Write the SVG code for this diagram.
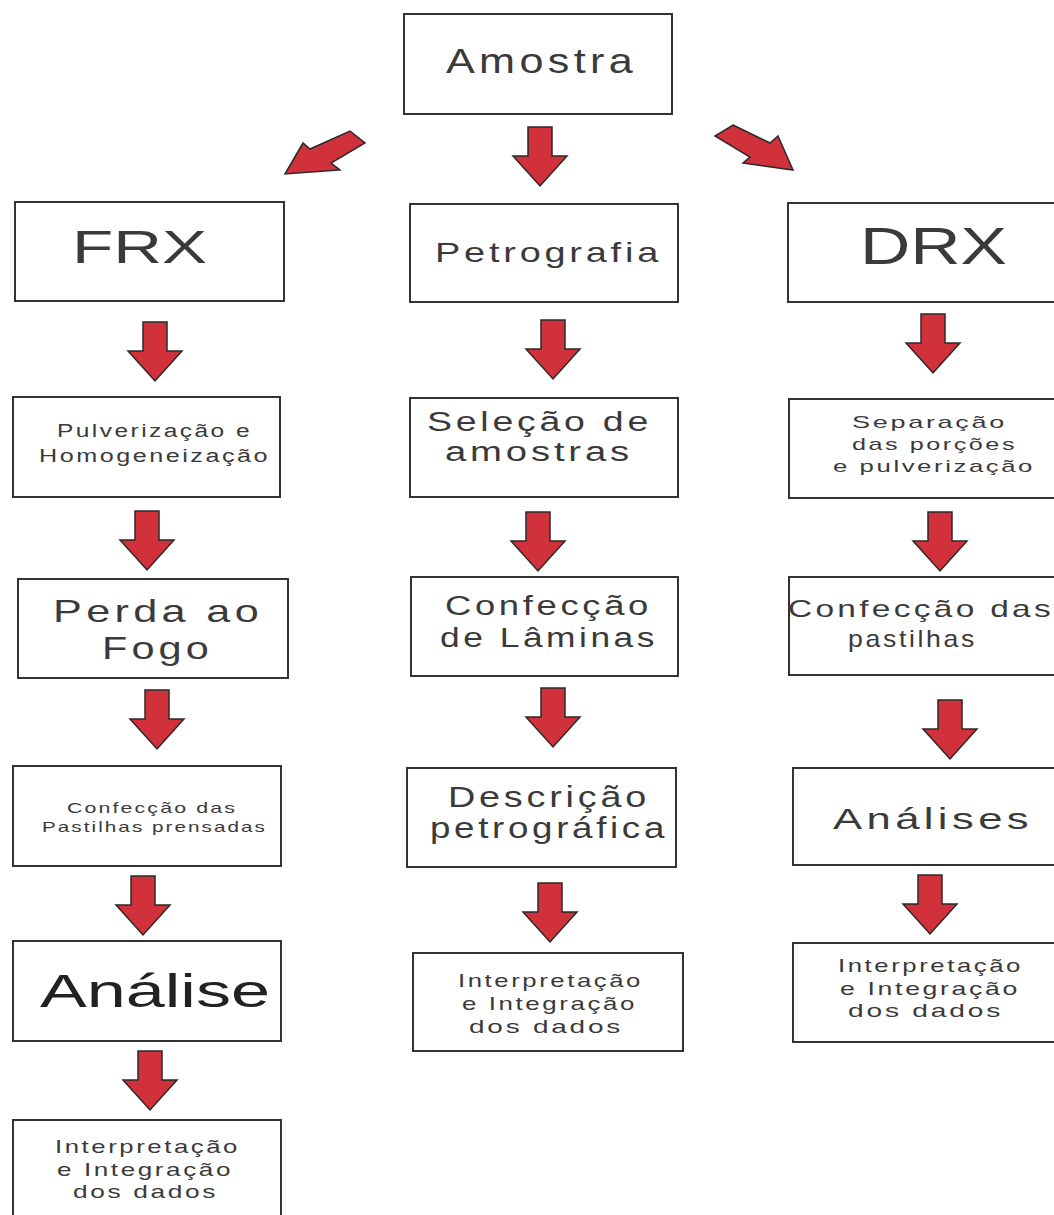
<svg xmlns="http://www.w3.org/2000/svg" xmlns:xlink="http://www.w3.org/1999/xlink" width="1054" height="1215" viewBox="0 0 1054 1215">
<style>
.box{fill:#fff;stroke:#333;stroke-width:2}
.t{font-family:"Liberation Sans",Arial,sans-serif;fill:#3a3a3a}
.ls{letter-spacing:0.1em}
.arr{fill:#d0313a;stroke:#2a2a2a;stroke-width:1.5;stroke-linejoin:miter}
</style>
<defs>
<path id="down" d="M-12,0 H12 V29 H27 L0,59 L-27,29 H-12 Z"/>
</defs>
<rect width="1054" height="1215" fill="#fff"/>

<g id="connectors" class="arr">
<polygon points="350,131 365,143 331,163 340,170 285,174 303,143 310,149"/>
<polygon points="733,125 770,143 778,136 793,170 743,163 750,157 715,136"/>
<use xlink:href="#down" x="540" y="127"/>
<use xlink:href="#down" x="155" y="322"/>
<use xlink:href="#down" x="147" y="511"/>
<use xlink:href="#down" x="157" y="690"/>
<use xlink:href="#down" x="143" y="876"/>
<use xlink:href="#down" x="150" y="1051"/>
<use xlink:href="#down" x="553" y="320"/>
<use xlink:href="#down" x="538" y="512"/>
<use xlink:href="#down" x="553" y="688"/>
<use xlink:href="#down" x="550" y="883"/>
<use xlink:href="#down" x="933" y="314"/>
<use xlink:href="#down" x="940" y="512"/>
<use xlink:href="#down" x="950" y="700"/>
<use xlink:href="#down" x="930" y="875"/>
</g>

<g id="amostra"><rect class="box" x="404" y="14" width="268" height="100"/>
<text class="t ls" x="446" y="73" font-size="35" textLength="191" lengthAdjust="spacingAndGlyphs">Amostra</text></g>

<g id="frx"><rect class="box" x="15" y="202" width="269" height="99"/>
<text class="t" x="72" y="263" font-size="47" textLength="135" lengthAdjust="spacingAndGlyphs">FRX</text></g>

<g id="petrografia"><rect class="box" x="410" y="204" width="268" height="98"/>
<text class="t ls" x="435" y="262" font-size="28" textLength="227" lengthAdjust="spacingAndGlyphs">Petrografia</text></g>

<g id="drx"><rect class="box" x="788" y="203" width="280" height="99"/>
<text class="t" x="860" y="264" font-size="52" textLength="147" lengthAdjust="spacingAndGlyphs">DRX</text></g>

<g id="pulverizacao"><rect class="box" x="13" y="397" width="267" height="100"/>
<text class="t ls" font-size="18"><tspan x="57" y="437" textLength="195" lengthAdjust="spacingAndGlyphs">Pulverização e</tspan><tspan x="39" y="462" textLength="231" lengthAdjust="spacingAndGlyphs">Homogeneização</tspan></text></g>

<g id="selecao"><rect class="box" x="410" y="398" width="268" height="99"/>
<text class="t ls" font-size="27"><tspan x="427" y="431" textLength="225" lengthAdjust="spacingAndGlyphs">Seleção de</tspan><tspan x="445" y="461" textLength="188" lengthAdjust="spacingAndGlyphs">amostras</tspan></text></g>

<g id="separacao"><rect class="box" x="789" y="399" width="280" height="99"/>
<text class="t ls" font-size="17"><tspan x="852" y="428" textLength="155" lengthAdjust="spacingAndGlyphs">Separação</tspan><tspan x="852" y="450" textLength="165" lengthAdjust="spacingAndGlyphs">das porções</tspan><tspan x="833" y="472" textLength="202" lengthAdjust="spacingAndGlyphs">e pulverização</tspan></text></g>

<g id="perda"><rect class="box" x="18" y="579" width="270" height="99"/>
<text class="t ls" font-size="32"><tspan x="53" y="622" textLength="210" lengthAdjust="spacingAndGlyphs">Perda ao</tspan><tspan x="102" y="659" textLength="111" lengthAdjust="spacingAndGlyphs">Fogo</tspan></text></g>

<g id="laminas"><rect class="box" x="411" y="577" width="267" height="99"/>
<text class="t ls" font-size="27"><tspan x="445" y="615" textLength="207" lengthAdjust="spacingAndGlyphs">Confecção</tspan><tspan x="440" y="647" textLength="218" lengthAdjust="spacingAndGlyphs">de Lâminas</tspan></text></g>

<g id="pastilhas-drx"><rect class="box" x="789" y="577" width="280" height="98"/>
<text class="t ls" font-size="24"><tspan x="788" y="617" textLength="266" lengthAdjust="spacingAndGlyphs">Confecção das</tspan><tspan x="848" y="647" textLength="129" lengthAdjust="spacingAndGlyphs">pastilhas</tspan></text></g>

<g id="pastilhas-frx"><rect class="box" x="13" y="766" width="268" height="100"/>
<text class="t ls" font-size="15"><tspan x="67" y="813" textLength="170" lengthAdjust="spacingAndGlyphs">Confecção das</tspan><tspan x="42" y="832" textLength="225" lengthAdjust="spacingAndGlyphs">Pastilhas prensadas</tspan></text></g>

<g id="descricao"><rect class="box" x="407" y="768" width="269" height="99"/>
<text class="t ls" font-size="29"><tspan x="448" y="807" textLength="202" lengthAdjust="spacingAndGlyphs">Descrição</tspan><tspan x="430" y="838" textLength="238" lengthAdjust="spacingAndGlyphs">petrográfica</tspan></text></g>

<g id="analises"><rect class="box" x="793" y="768" width="280" height="97"/>
<text class="t ls" x="833" y="829" font-size="30" textLength="200" lengthAdjust="spacingAndGlyphs">Análises</text></g>

<g id="analise"><rect class="box" x="13" y="941" width="268" height="100"/>
<text class="t" x="40" y="1007" font-size="46" textLength="230" lengthAdjust="spacingAndGlyphs" style="fill:#222">Análise</text></g>

<g id="interp-petro"><rect class="box" x="413" y="953" width="270" height="98"/>
<text class="t ls" font-size="19"><tspan x="458" y="987" textLength="185" lengthAdjust="spacingAndGlyphs">Interpretação</tspan><tspan x="462" y="1010" textLength="175" lengthAdjust="spacingAndGlyphs">e Integração</tspan><tspan x="469" y="1033" textLength="154" lengthAdjust="spacingAndGlyphs">dos dados</tspan></text></g>

<g id="interp-drx"><rect class="box" x="793" y="943" width="280" height="99"/>
<text class="t ls" font-size="19"><tspan x="838" y="972" textLength="185" lengthAdjust="spacingAndGlyphs">Interpretação</tspan><tspan x="840" y="995" textLength="180" lengthAdjust="spacingAndGlyphs">e Integração</tspan><tspan x="848" y="1017" textLength="155" lengthAdjust="spacingAndGlyphs">dos dados</tspan></text></g>

<g id="interp-frx"><rect class="box" x="13" y="1120" width="268" height="110"/>
<text class="t ls" font-size="19"><tspan x="55" y="1153" textLength="185" lengthAdjust="spacingAndGlyphs">Interpretação</tspan><tspan x="57" y="1176" textLength="176" lengthAdjust="spacingAndGlyphs">e Integração</tspan><tspan x="73" y="1198" textLength="145" lengthAdjust="spacingAndGlyphs">dos dados</tspan></text></g>
</svg>
